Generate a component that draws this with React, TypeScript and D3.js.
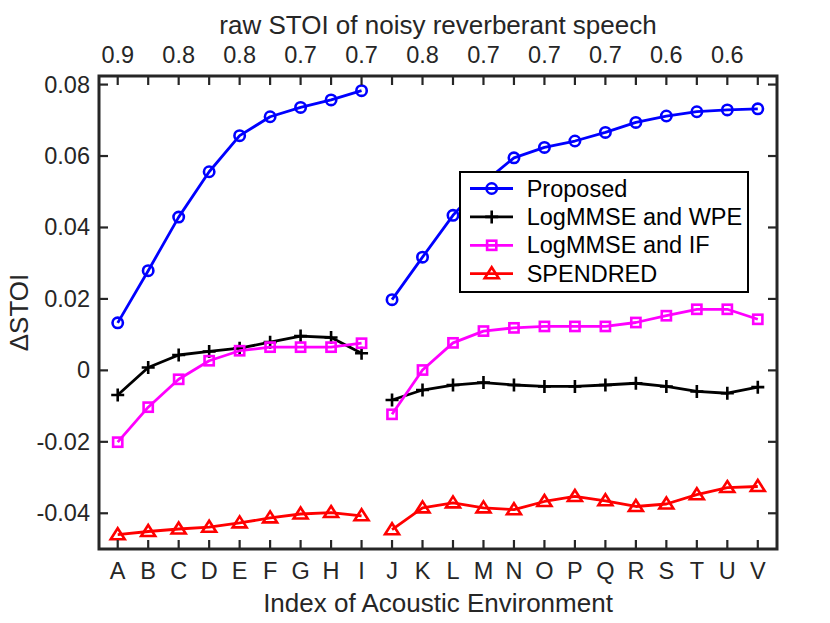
import * as d3 from "d3";

const categories = ["A", "B", "C", "D", "E", "F", "G", "H", "I", "J", "K", "L", "M", "N", "O", "P", "Q", "R", "S", "T", "U", "V"];

// values per environment; the line breaks between I and J
const proposed = [0.0133, 0.0279, 0.0429, 0.0556, 0.0657, 0.071, 0.0736, 0.0757, 0.0783,
  0.0198, 0.0317, 0.0434, 0.0525, 0.0595, 0.0624, 0.0642, 0.0666, 0.0694, 0.0712, 0.0724, 0.0729, 0.0732];
const wpe = [-0.0069, 0.0008, 0.0043, 0.0053, 0.0062, 0.0079, 0.0096, 0.0092, 0.0048,
  -0.0083, -0.0055, -0.0041, -0.0034, -0.0041, -0.0045, -0.0045, -0.0041, -0.0036, -0.0045, -0.0059, -0.0064, -0.0047];
const inverseFilter = [-0.0201, -0.0103, -0.0025, 0.0027, 0.0055, 0.0065, 0.0065, 0.0065, 0.0076,
  -0.0123, 0.0001, 0.0077, 0.011, 0.0119, 0.0123, 0.0123, 0.0123, 0.0134, 0.0153, 0.0171, 0.0171, 0.0143];
const spendred = [-0.046, -0.0451, -0.0444, -0.0439, -0.0427, -0.0413, -0.0402, -0.0398, -0.0407,
  -0.0446, -0.0385, -0.0371, -0.0385, -0.039, -0.0367, -0.0353, -0.0365, -0.0381, -0.0374, -0.0348, -0.0328, -0.0325];

const yTicks = [-0.04, -0.02, 0, 0.02, 0.04, 0.06, 0.08];
const topTickIndex = [1, 3, 5, 7, 9, 11, 13, 15, 17, 19, 21];
const topTickLabels = ["0.9", "0.8", "0.8", "0.7", "0.7", "0.8", "0.7", "0.7", "0.7", "0.6", "0.6"];
const breakAfter = 9; // first block A..I

type Marker = "circle" | "plus" | "square" | "triangle";
const seriesList: { name: string; values: number[]; color: string; marker: Marker }[] = [
  { name: "Proposed", values: proposed, color: "#0000ff", marker: "circle" },
  { name: "LogMMSE and WPE", values: wpe, color: "#000000", marker: "plus" },
  { name: "LogMMSE and IF", values: inverseFilter, color: "#ff00ff", marker: "square" },
  { name: "SPENDRED", values: spendred, color: "#ff0000", marker: "triangle" }
];

const W = 830;
const H = 623;
const left = 99;
const right = 777;
const top = 76;
const bottom = 549;
const font = "'Liberation Sans', Arial, Helvetica, sans-serif";
const axisColor = "#262626";
const tickLen = 9;

function MarkerShape({ kind, x, y, color }: { kind: Marker; x: number; y: number; color: string }) {
  const sw = 2.6;
  if (kind === "circle") return <circle cx={x} cy={y} r={5.2} fill="none" stroke={color} strokeWidth={sw} />;
  if (kind === "square") return <rect x={x - 4.6} y={y - 4.6} width={9.2} height={9.2} fill="none" stroke={color} strokeWidth={sw} />;
  if (kind === "plus")
    return <path d={`M${x - 6.5},${y}H${x + 6.5}M${x},${y - 6.5}V${y + 6.5}`} stroke={color} strokeWidth={sw} />;
  return <path d={`M${x},${y - 6.5}L${x + 7},${y + 4.5}L${x - 7},${y + 4.5}Z`} fill="none" stroke={color} strokeWidth={sw} />;
}

export default function App() {
  const x = d3.scaleLinear().domain([0.386, 22.63]).range([left, right]);
  const y = d3.scaleLinear().domain([-0.05, 0.0824]).range([bottom, top]);

  const legendX = 460;
  const legendY = 172;
  const rowGap = 28.4;

  return (
    <svg width={W} height={H} style={{ position: "absolute", left: 0, top: 0, background: "#fff" }} fontFamily={font}>
      <rect width={W} height={H} fill="#fff" />
      {seriesList.map((s) => (
        <g key={s.name}>
          {[s.values.slice(0, breakAfter), s.values.slice(breakAfter)].map((seg, k) => (
            <path
              key={k}
              d={d3
                .line<number>()
                .x((_, i) => x(i + 1 + k * breakAfter))
                .y((d) => y(d))(seg) ?? ""}
              fill="none"
              stroke={s.color}
              strokeWidth={2.8}
              strokeLinejoin="round"
            />
          ))}
          {s.values.map((v, i) => (
            <MarkerShape key={i} kind={s.marker} x={x(i + 1)} y={y(v)} color={s.color} />
          ))}
        </g>
      ))}

      {/* axes box and ticks */}
      <g stroke={axisColor} strokeWidth={2.2}>
        {categories.map((_, i) => (
          <g key={i}>
            <line x1={x(i + 1)} x2={x(i + 1)} y1={bottom} y2={bottom - tickLen} />
            <line x1={x(i + 1)} x2={x(i + 1)} y1={top} y2={top + tickLen} />
          </g>
        ))}
        {yTicks.map((t) => (
          <g key={t}>
            <line x1={left} x2={left + tickLen} y1={y(t)} y2={y(t)} />
            <line x1={right} x2={right - tickLen} y1={y(t)} y2={y(t)} />
          </g>
        ))}
        <rect x={left} y={top} width={right - left} height={bottom - top} fill="none" strokeWidth={3} />
      </g>

      <g fill={axisColor} fontSize={23.5}>
        {categories.map((c, i) => (
          <text key={c} x={x(i + 1)} y={579} textAnchor="middle">
            {c}
          </text>
        ))}
        {yTicks.map((t) => (
          <text key={t} x={90} y={y(t) + 8} textAnchor="end">
            {t === 0 ? "0" : t.toFixed(2)}
          </text>
        ))}
        {topTickIndex.map((idx, k) => (
          <text key={idx} x={x(idx)} y={63} textAnchor="middle">
            {topTickLabels[k]}
          </text>
        ))}
      </g>
      <g fill={axisColor} fontSize={26}>
        <text x={(left + right) / 2} y={612} textAnchor="middle">
          Index of Acoustic Environment
        </text>
        <text x={(left + right) / 2} y={34} textAnchor="middle">
          raw STOI of noisy reverberant speech
        </text>
        <text transform={`translate(28,${(top + bottom) / 2}) rotate(-90)`} textAnchor="middle">
          ΔSTOI
        </text>
      </g>

      {/* legend */}
      <rect x={legendX} y={legendY} width={288} height={120} fill="#fff" stroke="#000" strokeWidth={2} />
      {seriesList.map((s, k) => {
        const ly = legendY + 16.5 + k * rowGap;
        return (
          <g key={s.name}>
            <line x1={470} x2={513} y1={ly} y2={ly} stroke={s.color} strokeWidth={2.8} />
            <MarkerShape kind={s.marker} x={491.7} y={ly} color={s.color} />
            <text x={526.7} y={ly + 8} fontSize={23.5} fill="#000">
              {s.name}
            </text>
          </g>
        );
      })}
    </svg>
  );
}
